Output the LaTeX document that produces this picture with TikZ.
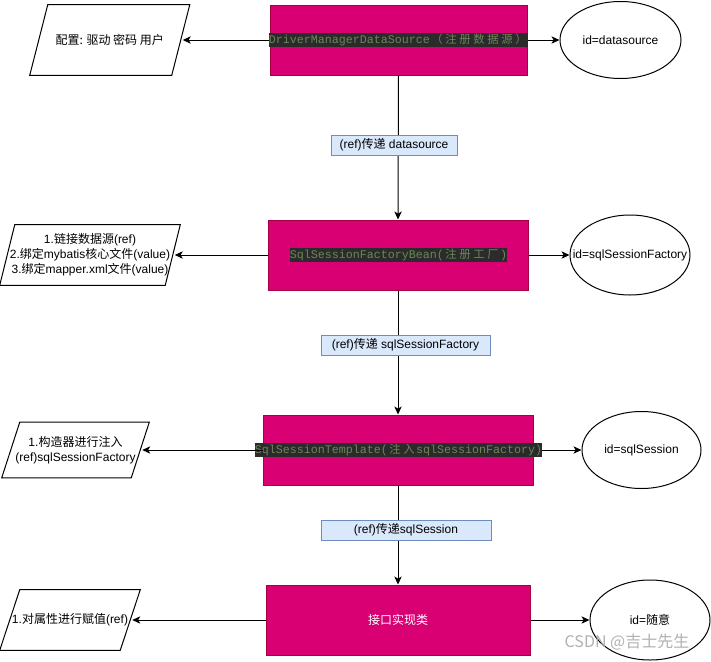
\documentclass[tikz,border=0pt]{standalone}
\usepackage{fontspec}
\setmainfont{Liberation Sans}
\newfontfamily\cjk{Noto Sans CJK SC}
\newfontfamily\mono{Liberation Mono}
\usetikzlibrary{shapes.geometric,arrows.meta}
\definecolor{mag}{HTML}{D80073}
\definecolor{magb}{HTML}{A50040}
\definecolor{codebg}{HTML}{2B2B2B}
\definecolor{codefg}{HTML}{6A8759}
\definecolor{lblfill}{HTML}{DAE8FC}
\definecolor{lbldraw}{HTML}{6C8EBF}
\definecolor{wm}{HTML}{A8A8A8}
\newcommand\zh[1]{\makebox[10.5pt]{\cjk\fontsize{8.5pt}{10pt}\selectfont #1}}
\def\zhloop#1{\ifx\relax#1\else\zh{#1}\expandafter\zhloop\fi}
\newcommand\zhs[1]{\zhloop#1\relax}
\begin{document}
\begin{tikzpicture}[x=0.75pt,y=-0.75pt,
  every node/.style={font=\fontsize{9pt}{11.25pt}\selectfont},
  bean/.style={rectangle,fill=mag,draw=magb,line width=0.75pt,minimum height=52.5pt,inner sep=0},
  code/.style={fill=codebg,text=codefg,inner sep=0,minimum height=10.5pt,font=\mono\fontsize{8.75pt}{10pt}\selectfont},
  idel/.style={ellipse,draw,line width=0.75pt,inner sep=0},
  paranode/.style={rectangle,inner sep=0,align=center},
  paraline/.style={draw,line width=0.75pt,line join=miter},
  lbl/.style={fill=lblfill,draw=lbldraw,line width=0.75pt,minimum height=15pt,inner sep=0},
  arr/.style={-{Stealth[length=6pt,width=5.5pt,inset=1.6pt]},line width=0.75pt}]
\useasboundingbox (0,0) rectangle (711,661);

% beans
\node[bean,minimum width=192.75pt] (b1) at (398.5,40) {};
\node[bean,minimum width=195pt] (b2) at (398,255) {};
\node[bean,minimum width=202.5pt] (b3) at (398,450) {};
\node[bean,minimum width=198pt,text=white] (b4) at (398,620) {\cjk 接口实现类};

\node[code] (t1) at (398.5,40) {DriverManagerDataSource\zhs{（注册数据源）}};
\node[code] (t2) at (398.5,255) {SqlSessionFactoryBean(\zhs{注册工厂})};
\node[code] (t3) at (398.5,450) {SqlSessionTemplate(\zhs{注入}sqlSessionFactory)};

% ellipses
\node[idel,minimum width=90.75pt,minimum height=57.75pt] (e1) at (620.5,40) {\makebox[0pt]{id=datasource}};
\node[idel,minimum width=90pt,minimum height=60pt] (e2) at (630,255) {\makebox[0pt]{id=sqlSessionFactory}};
\node[idel,minimum width=89.25pt,minimum height=57.75pt] (e3) at (641.5,450) {\makebox[0pt]{id=sqlSession}};
\node[idel,minimum width=90pt,minimum height=60pt] (e4) at (650,620) {\makebox[0pt]{id={\cjk 随意}}};

% parallelograms
\node[paranode,minimum width=106.1pt,minimum height=52.5pt] (p1) at (109.75,40) {{\cjk 配置: 驱动 密码 用户}};
\node[paranode,minimum width=123.75pt,minimum height=45pt] (p2) at (90,255)
  {1.{\cjk 链接数据源}(ref)\\2.{\cjk 绑定}mybatis{\cjk 核心文件}(value)\\3.{\cjk 绑定}mapper.xml{\cjk 文件}(value)};
\node[paranode,minimum width=96.75pt,minimum height=41.25pt] (p3) at (75.5,450)
  {1.{\cjk 构造器进行注入}\\(ref)sqlSessionFactory};
\node[paranode,minimum width=90pt,minimum height=45pt] (p4) at (70,620) {1.{\cjk 对属性进行赋值}(ref)};

\draw[paraline] ([xshift=6.75pt]p1.north west) -- ([xshift=6.75pt]p1.north east) -- ([xshift=-6.75pt]p1.south east) -- ([xshift=-6.75pt]p1.south west) -- cycle;
\draw[paraline] ([xshift=5.625pt]p2.north west) -- ([xshift=5.625pt]p2.north east) -- ([xshift=-5.625pt]p2.south east) -- ([xshift=-5.625pt]p2.south west) -- cycle;
\draw[paraline] ([xshift=6.75pt]p3.north west) -- ([xshift=6.75pt]p3.north east) -- ([xshift=-6.75pt]p3.south east) -- ([xshift=-6.75pt]p3.south west) -- cycle;
\draw[paraline] ([xshift=7.5pt]p4.north west) -- ([xshift=7.5pt]p4.north east) -- ([xshift=-7.5pt]p4.south east) -- ([xshift=-7.5pt]p4.south west) -- cycle;

% horizontal arrows
\draw[arr] (t1.west) -- ([xshift=1.5pt]p1.east);
\draw[arr] (b2.west) -- ([xshift=1.5pt]p2.east);
\draw[arr] (b3.west) -- ([xshift=1.5pt]p3.east);
\draw[arr] (b4.west) -- ([xshift=1.5pt]p4.east);
\draw[arr] (t1.east) -- (e1.west);
\draw[arr] (b2.east) -- (e2.west);
\draw[arr] (t3.east) -- (e3.west);
\draw[arr] (b4.east) -- (e4.west);

% vertical arrows
\draw[arr] (b1.south) -- (b2.north);
\draw[arr] (b2.south) -- (b3.north);
\draw[arr] (b3.south) -- (b4.north);

% edge labels
\node[lbl,minimum width=94.5pt] (l1) at (394,145) {(ref){\cjk 传递} datasource};
\node[lbl,minimum width=126.75pt] (l2) at (405.5,345) {(ref){\cjk 传递} sqlSessionFactory};
\node[lbl,minimum width=127.5pt] (l3) at (406,530) {(ref){\cjk 传递}sqlSession};

% watermark
\node[text=wm,font=\cjk\fontsize{12pt}{14pt}\selectfont,opacity=0.9] (wmk) at (627,642) {CSDN @吉士先生};
\end{tikzpicture}
\end{document}
